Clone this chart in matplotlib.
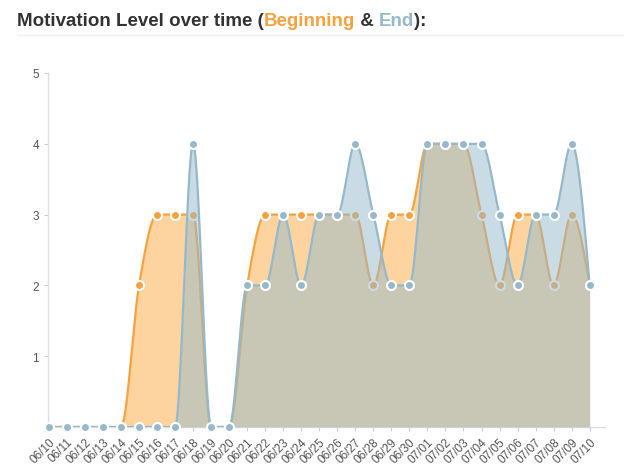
import numpy as np
import matplotlib.pyplot as plt

dates = ['06/10', '06/11', '06/12', '06/13', '06/14', '06/15', '06/16', '06/17',
         '06/18', '06/19', '06/20', '06/21', '06/22', '06/23', '06/24', '06/25',
         '06/26', '06/27', '06/28', '06/29', '06/30', '07/01', '07/02', '07/03',
         '07/04', '07/05', '07/06', '07/07', '07/08', '07/09', '07/10']
beginning = [0, 0, 0, 0, 0, 2, 3, 3, 3, 0, 0, 2, 3, 3, 3, 3,
             3, 3, 2, 3, 3, 4, 4, 4, 3, 2, 3, 3, 2, 3, 2]
end = [0, 0, 0, 0, 0, 0, 0, 0, 4, 0, 0, 2, 2, 3, 2, 3,
       3, 4, 3, 2, 2, 4, 4, 4, 4, 3, 2, 3, 3, 4, 2]

ORANGE = '#f8a23f'
BLUE = '#95b9ca'


def monotone(y, n=40):
    # d3-style monotoneX curve, unit spacing
    y = np.asarray(y, float)
    s = np.diff(y)
    t = np.zeros_like(y)
    for i in range(1, len(y) - 1):
        s0, s1 = s[i - 1], s[i]
        p = (s0 + s1) / 2
        t[i] = (np.sign(s0) + np.sign(s1)) * min(abs(s0), abs(s1), 0.5 * abs(p))
    t[0] = (3 * s[0] - t[1]) / 2
    t[-1] = (3 * s[-1] - t[-2]) / 2
    xs, ys = [], []
    u = np.linspace(0, 1, n, endpoint=False)
    for i in range(len(y) - 1):
        h00 = 2 * u**3 - 3 * u**2 + 1
        h10 = u**3 - 2 * u**2 + u
        h01 = -2 * u**3 + 3 * u**2
        h11 = u**3 - u**2
        xs.append(i + u)
        ys.append(h00 * y[i] + h10 * t[i] + h01 * y[i + 1] + h11 * t[i + 1])
    xs.append([len(y) - 1])
    ys.append([y[-1]])
    return np.concatenate(xs), np.concatenate(ys)


plt.rcParams['font.family'] = ['Liberation Sans', 'DejaVu Sans']
fig = plt.figure(figsize=(6.24, 4.77), dpi=100)
ax = fig.add_axes([48 / 624, 49 / 477, 557 / 624, 354 / 477])

x = np.arange(len(dates))
bx, by = monotone(beginning)
ex, ey = monotone(end)

ax.fill_between(bx, by, 0, color='#fdd4a0', lw=0, zorder=1)
ax.plot(bx, by, color=ORANGE, lw=1.6, zorder=2)
ax.plot(x, beginning, 'o', color=ORANGE, ms=6.5, mec='white', mew=1.5, zorder=3)
ax.fill_between(ex, ey, 0, color=BLUE, alpha=0.5, lw=0, zorder=4)
ax.plot(ex, ey, color=BLUE, lw=1.6, zorder=5)
ax.plot(x, end, 'o', color=BLUE, ms=6.5, mec='white', mew=1.5, zorder=6,
        clip_on=False)

ax.set_xlim(-0.05, 30.85)
ax.set_ylim(0, 5)
ax.set_yticks([1, 2, 3, 4, 5])
ax.set_xticks(x)
ax.set_xticklabels(dates, rotation=45, ha='right', rotation_mode='anchor')
ax.tick_params(axis='both', colors='#cccccc', labelcolor='#555555',
               labelsize=8.5, length=3, width=0.8)
ax.tick_params(axis='x', pad=3)
for side in ['top', 'right']:
    ax.spines[side].set_visible(False)
for side in ['left', 'bottom']:
    ax.spines[side].set_color('#dddddd')
    ax.spines[side].set_linewidth(1)

# title built from coloured pieces
renderer = fig.canvas.get_renderer()
pieces = [('Motivation Level over time (', '#333333'), ('Beginning', ORANGE),
          (' & ', '#333333'), ('End', BLUE), ('):', '#333333')]
xpos = 17
for txt, col in pieces:
    t = fig.text(xpos / 624, 1 - 21 / 477, txt, color=col, fontsize=13.5,
                 fontweight='bold', va='center', ha='left')
    bb = t.get_window_extent(renderer)
    xpos += bb.width
fig.add_artist(plt.Line2D([17 / 624, 1], [1 - 36 / 477] * 2, color='#eeeeee',
                          lw=1, transform=fig.transFigure))

fig.savefig('out.png', dpi=100)
